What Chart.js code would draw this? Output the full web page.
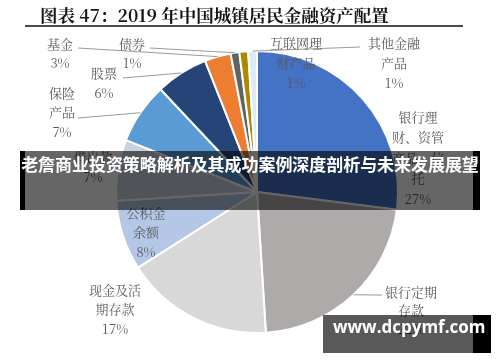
<!DOCTYPE html>
<html>
<head>
<meta charset="utf-8">
<script src="https://cdn.jsdelivr.net/npm/chart.js@4/dist/chart.umd.min.js"></script>
<style>
html,body{margin:0;padding:0;background:#fff;}
#wrap{position:relative;width:500px;height:362px;overflow:hidden;background:#fff;}
#c{position:absolute;left:0;top:0;}
#title{position:absolute;left:40px;top:2px;font:bold 17.5px "Noto Serif CJK SC","Liberation Serif","Noto Sans CJK SC",serif;color:#151515;white-space:nowrap;line-height:26px;}
#rule{position:absolute;left:25px;top:25px;width:438px;height:2px;background:#4a4a4a;}
#band{position:absolute;left:20px;top:151px;width:460px;height:59px;background:rgba(0,0,0,0.6);}
#band .l{position:absolute;left:0;top:0;width:5px;height:59px;background:#000;}
#band .r{position:absolute;right:0;top:0;width:7px;height:59px;background:#000;}
#band .t{position:absolute;left:0;top:0;width:460px;height:59px;line-height:59px;text-align:center;color:#fff;font:bold 17px "Noto Sans CJK SC",sans-serif;white-space:nowrap;letter-spacing:-0.05px;}
#wm{position:absolute;left:323px;top:315px;width:168px;height:38px;background:rgba(0,0,0,0.65);}
#wm .r{position:absolute;right:0;top:0;width:18px;height:38px;background:#000;}
#wm .t{position:absolute;left:10px;top:0;height:38px;line-height:40px;color:#fff;font:bold 17px "Open Sans",sans-serif;white-space:nowrap;}
</style>
</head>
<body>
<div id="wrap">
<canvas id="c" width="500" height="362"></canvas>
<div id="title">图表 47：2019 年中国城镇居民金融资产配置</div>
<div id="rule"></div>
<div id="band"><div class="l"></div><div class="r"></div><div class="t">老詹商业投资策略解析及其成功案例深度剖析与未来发展展望</div></div>
<div id="wm"><div class="r"></div><div class="t">www.dcpymf.com</div></div>
</div>
<script>
// ---- data ----
const categories = ['银行理财、资管产品、信托','银行定期存款','现金及活期存款','公积金余额','借出款','保险产品','股票','基金','债券','互联网理财产品','其他金融产品'];
const values = [27,22,17,8,7,7,6,3,1,1,1];
const colors = ['#4472C4','#AEAAAA','#D8D8D8','#B4C7E7','#C9D1DC','#5B9BD5','#264478','#ED7D31','#636363','#B08800','#DEEBF7'];

// ---- label layout (positions / wrapping only) ----
const labelLayout = [
  {x:418, y:117, wrap:[3,4,4,1], step:20.5},
  {x:411, y:292, wrap:[4,2], step:18.5, line:[382,295]},
  {x:115, y:290, wrap:[4,3], step:19.5},
  {x:146, y:213, wrap:[3,2], step:19.5},
  {x:93,  y:157, wrap:[3], step:20},
  {x:62,  y:93,  wrap:[2,2], step:19.5, line:[78,118]},
  {x:104, y:73,  wrap:[2], step:20, line:[123,78]},
  {x:60,  y:44,  wrap:[2], step:19, line:[78,48]},
  {x:132, y:44,  wrap:[2], step:19, line:[150,48]},
  {x:296, y:43,  wrap:[4,3], step:20},
  {x:394, y:43,  wrap:[4,2], step:20, line:[360,47]}
];

function splitText(s, wrap){
  const out=[]; let p=0;
  for(const n of wrap){ out.push(s.slice(p,p+n)); p+=n; }
  return out;
}

const labelPlugin = {
  id:'sliceLabels',
  afterDatasetsDraw(chart){
    const ctx = chart.ctx;
    const meta = chart.getDatasetMeta(0);
    ctx.save();
    ctx.strokeStyle = '#9a9a9a';
    ctx.lineWidth = 1;
    labelLayout.forEach((L,i)=>{
      if(!L.line) return;
      const a = meta.data[i];
      const mid = (a.startAngle + a.endAngle)/2;
      const px = a.x + Math.cos(mid)*a.outerRadius;
      const py = a.y + Math.sin(mid)*a.outerRadius;
      ctx.beginPath();
      ctx.moveTo(L.line[0], L.line[1]);
      ctx.lineTo(px, py);
      ctx.stroke();
    });
    ctx.fillStyle = '#595959';
    ctx.textAlign = 'center';
    ctx.textBaseline = 'middle';
    ctx.font = '13px "Noto Serif CJK SC","Liberation Serif","Noto Sans CJK SC",serif';
    labelLayout.forEach((L,i)=>{
      const lines = splitText(categories[i], L.wrap);
      lines.push(values[i] + '%');
      lines.forEach((t,k)=>{
        ctx.fillText(t, L.x, L.y + k*L.step);
      });
    });
    ctx.restore();
  }
};

new Chart(document.getElementById('c'), {
  type:'pie',
  data:{
    labels: categories,
    datasets:[{
      data: values,
      backgroundColor: colors,
      borderColor:'#ffffff',
      borderWidth:2
    }]
  },
  options:{
    responsive:false,
    animation:false,
    layout:{padding:{left:115,right:101,top:50,bottom:28}},
    plugins:{legend:{display:false},tooltip:{enabled:false},title:{display:false}}
  },
  plugins:[labelPlugin]
});
</script>
</body>
</html>
